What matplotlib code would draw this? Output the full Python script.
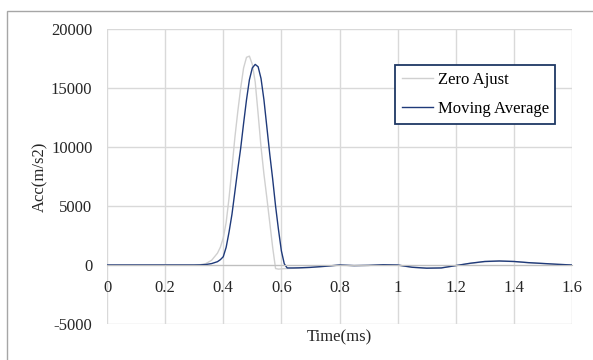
import matplotlib.pyplot as plt
from matplotlib.patches import Rectangle

# time (ms) and the two acceleration traces
time_ms = [0.0, 0.1, 0.2, 0.3, 0.32, 0.34, 0.36, 0.38, 0.39, 0.40, 0.41, 0.42,
           0.43, 0.44, 0.45, 0.46, 0.47, 0.48, 0.49, 0.50, 0.51, 0.52, 0.53,
           0.54, 0.55, 0.56, 0.57, 0.58, 0.59, 0.60, 0.61, 0.62, 0.64, 0.66,
           0.70, 0.75, 0.80, 0.85, 0.90, 0.95, 1.00, 1.05, 1.10, 1.15, 1.20,
           1.25, 1.30, 1.35, 1.40, 1.45, 1.50, 1.55, 1.60]

zero_ajust = [0, 0, 0, 0, 20, 120, 400, 1000, 1500, 2300, 3600, 5700,
              8200, 10800, 13000, 15000, 16700, 17600, 17700, 17000, 15500, 12800, 10000,
              7700, 5700, 3600, 1500, -300, -350, -330, -310, -300, -280, -260,
              -210, -120, -20, -60, -40, 10, -20, -200, -260, -240, -60,
              130, 280, 330, 290, 190, 120, 50, 0]

moving_avg = [0, 0, 0, 0, 10, 40, 120, 280, 450, 700, 1500, 2800,
              4300, 6200, 8100, 9900, 12000, 14000, 15700, 16700, 17000, 16800, 15800,
              14000, 11700, 9400, 7300, 5000, 3000, 1200, 100, -250, -250, -240,
              -200, -110, 0, -50, -30, 20, 0, -190, -270, -250, -50,
              150, 300, 340, 300, 200, 130, 60, 0]

x_ticks = [0, 0.2, 0.4, 0.6, 0.8, 1, 1.2, 1.4, 1.6]
y_ticks = [-5000, 0, 5000, 10000, 15000, 20000]

plt.rcParams["font.family"] = ["Liberation Serif", "DejaVu Serif"]
plt.rcParams["font.size"] = 12
plt.rcParams["axes.unicode_minus"] = False

fig = plt.figure(figsize=(5.93, 3.6), dpi=100)
ax = fig.add_axes([107 / 593, 1 - 324 / 360, 465 / 593, 295 / 360])

# outer chart border (cut off at the right and bottom edges)
fig.patches.append(Rectangle((7 / 593, -0.1), 1.2, 1 - 11 / 360 + 0.1,
                             transform=fig.transFigure, fill=False,
                             edgecolor="#a6a6a6", linewidth=1.0))

ax.plot(time_ms, zero_ajust, color="#d0d0d0", linewidth=1.0, label="Zero Ajust")
ax.plot(time_ms, moving_avg, color="#1f3a7a", linewidth=1.0, label="Moving Average")

ax.set_xlim(0, 1.6)
ax.set_ylim(-5000, 20000)
ax.set_xticks(x_ticks)
ax.set_xticklabels([f"{t:g}" for t in x_ticks])
ax.set_yticks(y_ticks)

ax.grid(True, color="#d9d9d9", linewidth=1.0)
ax.set_axisbelow(True)
for side in ["left", "right", "top"]:
    ax.spines[side].set_visible(False)
ax.spines["bottom"].set_position(("data", 0))
ax.spines["bottom"].set_color("#bfbfbf")
ax.tick_params(length=0, colors="#262626", labelsize=12)
ax.tick_params(axis="x", pad=10.5)
ax.tick_params(axis="y", pad=10.5)

ax.text(0.5, -13 / 295, "Time(ms)", transform=ax.transAxes, ha="center",
        va="center", fontsize=12, color="#262626")
ax.text(-67 / 465, 0.5, "Acc(m/s2)", transform=ax.transAxes, ha="center",
        va="center", rotation=90, fontsize=12, color="#262626")

leg = ax.legend(loc="upper left", bbox_to_anchor=(395 / 593, 1 - 65 / 360),
                bbox_transform=fig.transFigure, borderaxespad=0, fancybox=False,
                framealpha=1, edgecolor="#1f3864", handlelength=1.85,
                handletextpad=0.3, labelspacing=0.8, borderpad=0.4, fontsize=12)
leg.get_frame().set_linewidth(1.3)

fig.savefig("out.png", dpi=100)
